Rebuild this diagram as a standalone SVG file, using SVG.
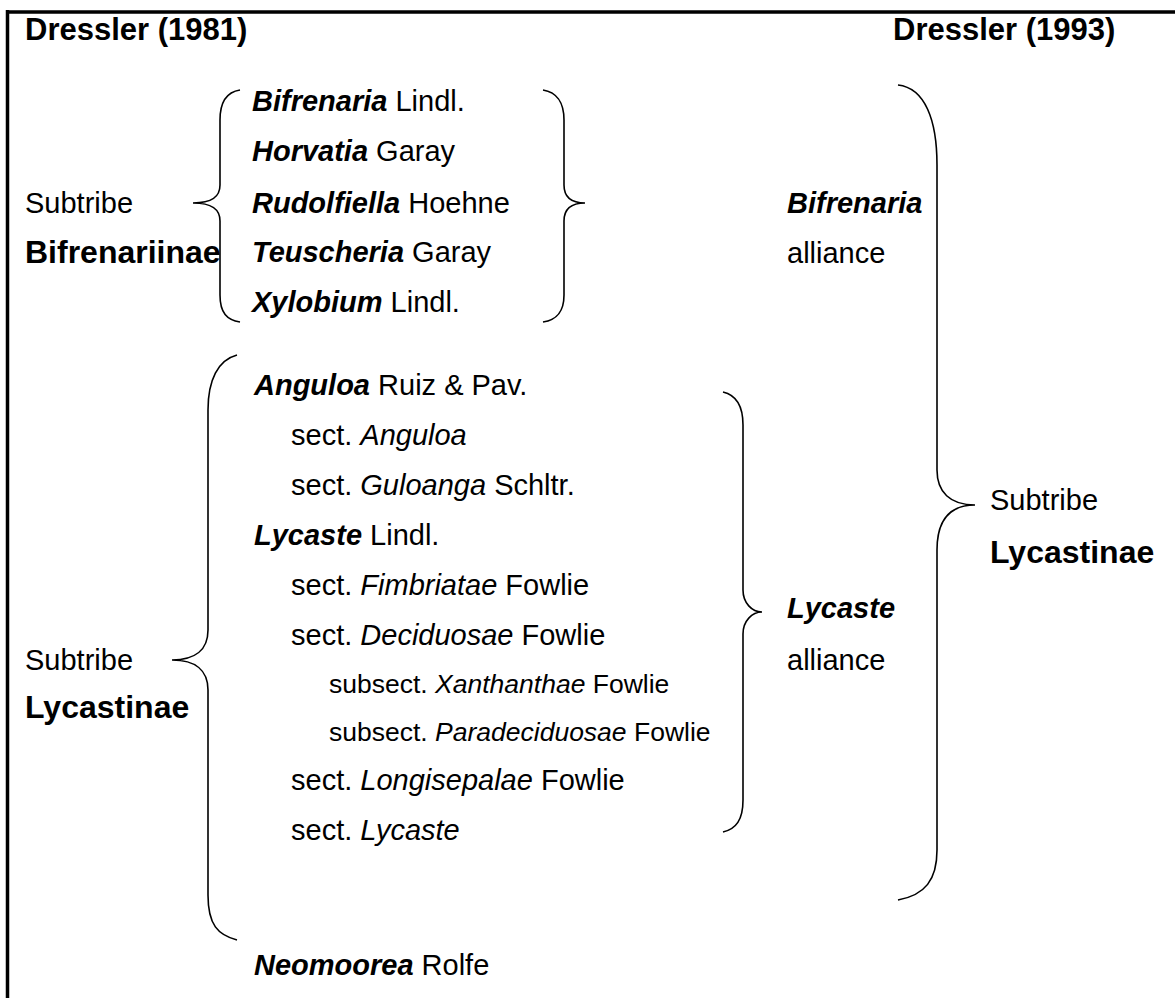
<svg xmlns="http://www.w3.org/2000/svg" width="1175" height="998" viewBox="0 0 1175 998">
<style>
text{font-family:"Liberation Sans",Arial,sans-serif;font-size:29px;fill:#000}
.t{font-weight:bold;font-size:31px}
.b{font-weight:bold;font-size:32px}
.g{font-weight:bold;font-style:italic}
.i{font-style:italic}
.s{font-size:26.5px}
.br{fill:none;stroke:#000;stroke-width:1.6}
.bd{fill:none;stroke:#000;stroke-width:3.5}
</style>
<rect width="1175" height="998" fill="#fff"/>
<g id="border">
<path class="bd" d="M6,12 H1175 M7.5,10 V998"/>
</g>
<g id="headers">
<text class="t" x="25" y="40">Dressler (1981)</text>
<text class="t" x="893" y="40">Dressler (1993)</text>
</g>
<g id="bifrenariinae">
<text x="25" y="213">Subtribe</text>
<text class="b" x="25" y="263">Bifrenariinae</text>
<text x="252" y="111"><tspan class="g">Bifrenaria</tspan> Lindl.</text>
<text x="252" y="161"><tspan class="g">Horvatia</tspan> Garay</text>
<text x="252" y="213"><tspan class="g">Rudolfiella</tspan> Hoehne</text>
<text x="252" y="262"><tspan class="g">Teuscheria</tspan> Garay</text>
<text x="252" y="312"><tspan class="g">Xylobium</tspan> Lindl.</text>
</g>
<g id="lycastinae1981">
<text x="25" y="670">Subtribe</text>
<text class="b" x="25" y="718">Lycastinae</text>
<text x="254" y="395"><tspan class="g">Anguloa</tspan> Ruiz &amp; Pav.</text>
<text x="291" y="445">sect. <tspan class="i">Anguloa</tspan></text>
<text x="291" y="495">sect. <tspan class="i">Guloanga</tspan> Schltr.</text>
<text x="254" y="545"><tspan class="g">Lycaste</tspan> Lindl.</text>
<text x="291" y="595">sect. <tspan class="i">Fimbriatae</tspan> Fowlie</text>
<text x="291" y="645">sect. <tspan class="i">Deciduosae</tspan> Fowlie</text>
<text class="s" x="329" y="693">subsect. <tspan class="i">Xanthanthae</tspan> Fowlie</text>
<text class="s" x="329" y="741">subsect. <tspan class="i">Paradeciduosae</tspan> Fowlie</text>
<text x="291" y="790">sect. <tspan class="i">Longisepalae</tspan> Fowlie</text>
<text x="291" y="840">sect. <tspan class="i">Lycaste</tspan></text>
<text x="254" y="975"><tspan class="g">Neomoorea</tspan> Rolfe</text>
</g>
<g id="bifrenaria-alliance">
<text class="g" x="787" y="213">Bifrenaria</text>
<text x="787" y="263">alliance</text>
</g>
<g id="lycaste-alliance">
<text class="g" x="787" y="618">Lycaste</text>
<text x="787" y="670">alliance</text>
</g>
<g id="lycastinae1993">
<text x="990" y="510">Subtribe</text>
<text class="b" x="990" y="563">Lycastinae</text>
</g>
<g id="connectors">
<path class="br" d="M240,90 C227,92 220,102 220,120 L220,185 C220,197 212,203 193,203 C212,203 220,209 220,221 L220,295 C220,313 227,320 240,322"/>
<path class="br" d="M543,90 C556,92 564,102 564,120 L564,185 C564,197 571,203 585,203 C571,203 564,209 564,221 L564,295 C564,313 556,320 543,322"/>
<path class="br" d="M237,355 C218,360 208,380 208,410 L208,630 C208,650 195,660 172,660 C195,660 208,670 208,690 L208,895 C208,925 218,935 237,940"/>
<path class="br" d="M723,392 C736,395 743,405 743,425 L743,590 C743,603 752,612 762,612 C752,612 743,621 743,634 L743,800 C743,820 736,829 723,832"/>
<path class="br" d="M898,85 C925,88 937,120 937,165 L937,470 C937,492 950,505 975,505 C950,505 937,520 937,550 L937,850 C937,880 925,895 898,900"/>
</g>
</svg>
